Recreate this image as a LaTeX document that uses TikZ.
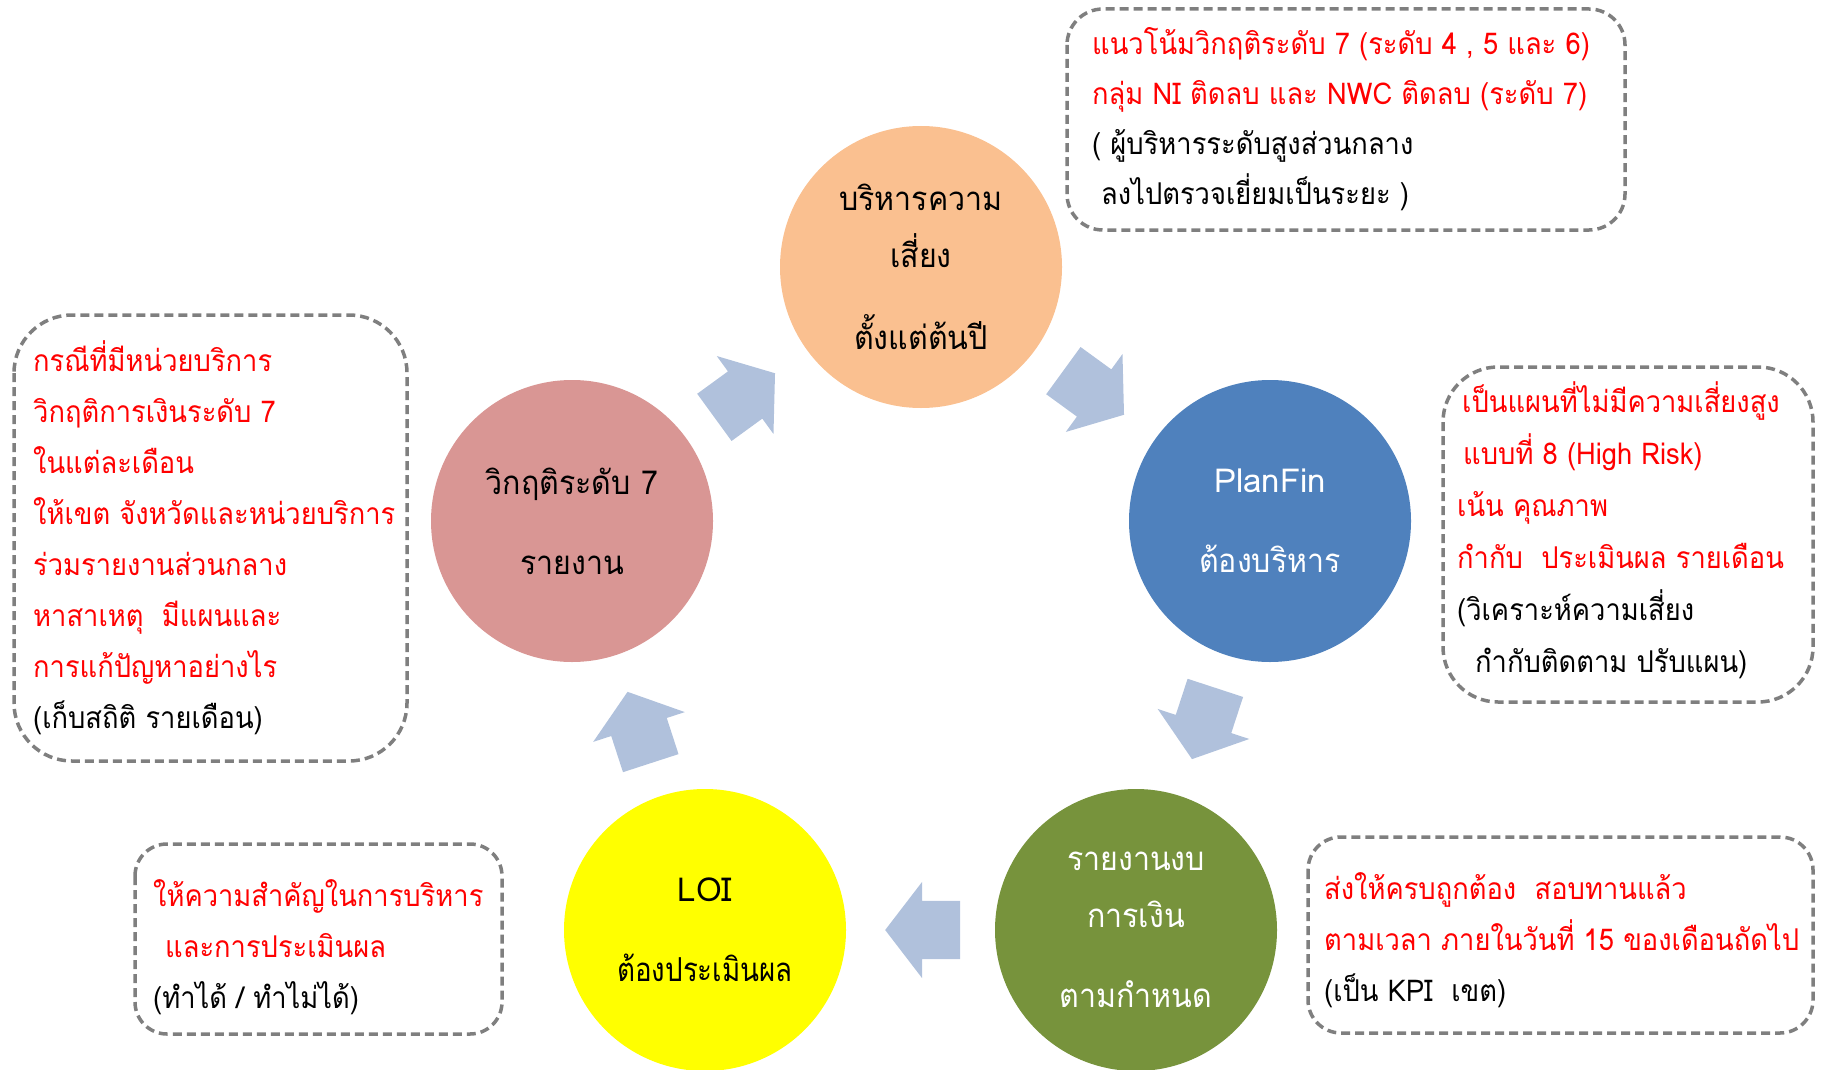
\documentclass[tikz,border=0pt]{standalone}
\usepackage{fontspec}
\setmainfont[Script=Thai]{Loma}
\newfontfamily\stagefont[Script=Thai, FakeStretch=0.92]{Loma}
\newfontfamily\narrowfont[Script=Thai, FakeStretch=0.84]{Loma}
\newfontfamily\notefont[Script=Thai, FakeStretch=0.91]{Loma}
\usetikzlibrary{shapes.arrows}
\definecolor{riskorange}{HTML}{FAC090}
\definecolor{crisispink}{HTML}{D99694}
\definecolor{planblue}{HTML}{4F81BD}
\definecolor{loiyellow}{HTML}{FFFF00}
\definecolor{reportgreen}{HTML}{77933C}
\definecolor{arrowblue}{HTML}{B0C1DC}
\definecolor{notegray}{HTML}{7F7F7F}
\begin{document}
\begin{tikzpicture}[x=1pt, y=-1pt,
    stage/.style={circle, minimum size=282pt, inner sep=0pt, align=center,
      font=\stagefont\fontsize{33}{80}\selectfont},
    cyclearrow/.style={single arrow, fill=arrowblue, sloped, allow upside down, pos=0.41,
      inner xsep=0pt, inner ysep=29pt, minimum height=75pt,
      single arrow head extend=19pt, single arrow tip angle=105},
    notebox/.style={draw=notegray, line width=3.5pt, dash pattern=on 9pt off 5pt},
    notetext/.style={anchor=west, align=left, inner sep=0pt, text=red,
      font=\notefont\fontsize{30}{51}\selectfont}]
\useasboundingbox (0,0) rectangle (1822,1070);
% Stages of the cycle
    \node[stage, fill=riskorange] (risk) at (921,267) {บริหารความ\\[-23pt]เสี่ยง\\[2pt]ตั้งแต่ต้นปี};
    \node[stage, fill=planblue, text=white] (planfin) at (1270,521) {\normalfont PlanFin\\ต้องบริหาร};
    \node[stage, fill=reportgreen, text=white] (report) at (1136,930) {รายงานงบ\\[-23pt]การเงิน\\ตามกำหนด};
    \node[stage, fill=loiyellow] (loi) at (705,930) {\normalfont LOI\\\narrowfont ต้องประเมินผล};
    \node[stage, fill=crisispink] (crisis) at (572,521) {วิกฤติระดับ 7\\รายงาน};
% Arrows between stages
    \path (crisis) -- node[cyclearrow] (crisis-risk) {} (risk);
    \path (risk) -- node[cyclearrow] (risk-planfin) {} (planfin);
    \path (planfin) -- node[cyclearrow] (planfin-report) {} (report);
    \path (report) -- node[cyclearrow] (report-loi) {} (loi);
    \path (loi) -- node[cyclearrow] (loi-crisis) {} (crisis);
% Dashed note boxes
    \draw[notebox, rounded corners=36pt] (1067,9) rectangle (1625,230);
    \draw[notebox, rounded corners=58pt] (14,315) rectangle (407,761);
    \draw[notebox, rounded corners=55pt] (1443,367) rectangle (1813,702);
    \draw[notebox, rounded corners=33pt] (1308,837) rectangle (1813,1033);
    \draw[notebox, rounded corners=32pt] (135,844) rectangle (502,1034);
% Note texts
    \node[notetext, font=\notefont\fontsize{30}{50}\selectfont] (risknote) at (1092,119) {แนวโน้มวิกฤติระดับ 7 (ระดับ 4 , 5 และ 6)\\กลุ่ม NI ติดลบ และ NWC ติดลบ (ระดับ 7)\\\textcolor{black}{( ผู้บริหารระดับสูงส่วนกลาง}\\\textcolor{black}{\hspace{9pt}ลงไปตรวจเยี่ยมเป็นระยะ )}};
    \node[notetext] (crisisnote) at (33,538) {กรณีที่มีหน่วยบริการ\\วิกฤติการเงินระดับ 7\\ในแต่ละเดือน\\ให้เขต จังหวัดและหน่วยบริการ\\ร่วมรายงานส่วนกลาง\\หาสาเหตุ~~มีแผนและ\\การแก้ปัญหาอย่างไร\\\textcolor{black}{(เก็บสถิติ รายเดือน)}};
    \node[notetext, font=\notefont\fontsize{30}{52}\selectfont] (plannote) at (1457,530) {\hspace{5pt}เป็นแผนที่ไม่มีความเสี่ยงสูง\\\hspace{6pt}แบบที่ 8 (High Risk)\\เน้น คุณภาพ\\กำกับ~~ประเมินผล รายเดือน\\\textcolor{black}{(วิเคราะห์ความเสี่ยง}\\\textcolor{black}{\hspace{18pt}กำกับติดตาม ปรับแผน)}};
    \node[notetext] (reportnote) at (1324,940) {ส่งให้ครบถูกต้อง~~สอบทานแล้ว\\ตามเวลา ภายในวันที่ 15 ของเดือนถัดไป\\\textcolor{black}{(เป็น KPI~~เขต)}};
    \node[notetext] (loinote) at (153,947) {ให้ความสำคัญในการบริหาร\\\hspace{12pt}และการประเมินผล\\\textcolor{black}{(ทำได้ / ทำไม่ได้)}};
\end{tikzpicture}
\end{document}
